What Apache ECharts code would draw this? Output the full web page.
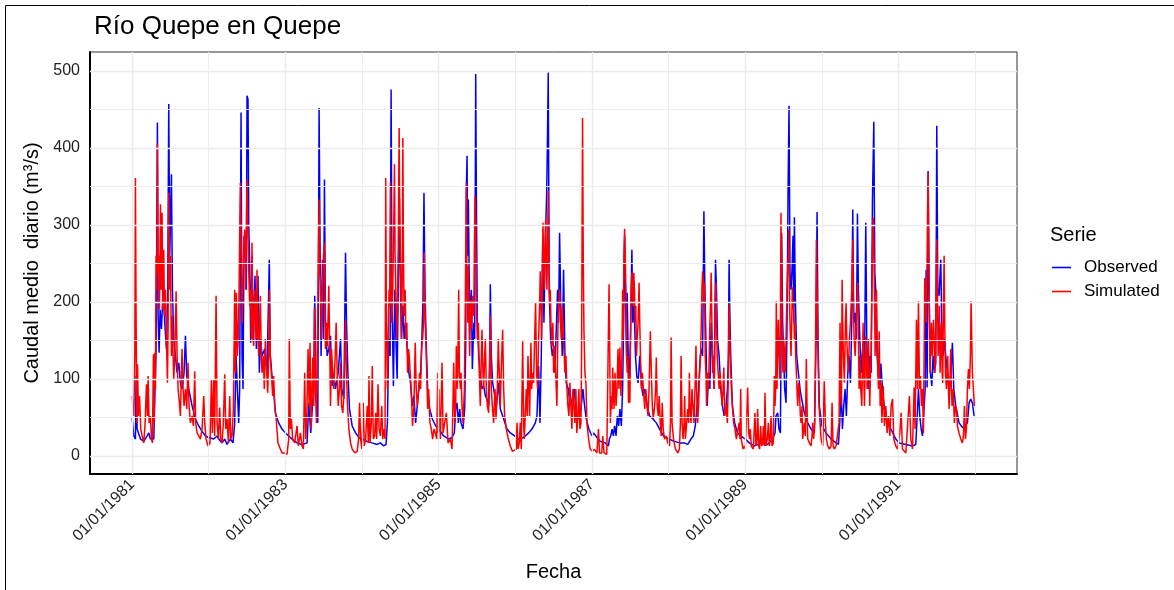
<!DOCTYPE html>
<html>
<head>
<meta charset="utf-8">
<title>Río Quepe en Quepe</title>
<script src="https://cdn.jsdelivr.net/npm/echarts@6/dist/echarts.min.js"></script>
<style>
  html, body { margin: 0; padding: 0; background: #ffffff; }
  #chart { width: 1174px; height: 590px; }
</style>
</head>
<body>
<div id="chart"></div>
<script>
// Daily mean discharge, Río Quepe en Quepe, 1981–1991.
// Each point is [decimal year, m³/s].
const observed = [
  [1981.000,50],[1981.022,26],[1981.043,22],[1981.052,104],[1981.065,35],[1981.109,22],[1981.152,19],[1981.196,26],[1981.217,30],[1981.239,22],[1981.261,24],[1981.283,22],[1981.296,74],[1981.313,139],[1981.330,433],[1981.339,182],[1981.352,134],[1981.365,190],[1981.383,165],[1981.404,216],[1981.426,173],[1981.448,139],[1981.465,216],[1981.478,457],[1981.491,260],[1981.513,366],[1981.526,216],[1981.543,152],[1981.565,130],[1981.587,108],[1981.609,121],[1981.630,95],[1981.652,87],[1981.678,108],[1981.696,156],[1981.713,104],[1981.739,87],[1981.783,65],[1981.826,48],[1981.870,39],[1981.913,32],[1981.957,26],
  [1982.000,24],[1982.065,22],[1982.109,26],[1982.130,22],[1982.174,17],[1982.209,22],[1982.239,15],[1982.283,22],[1982.317,17],[1982.339,43],[1982.357,130],[1982.374,87],[1982.391,43],[1982.404,87],[1982.422,446],[1982.435,130],[1982.448,87],[1982.461,286],[1982.478,277],[1982.491,216],[1982.500,468],[1982.513,463],[1982.522,303],[1982.535,251],[1982.548,147],[1982.565,260],[1982.583,152],[1982.604,234],[1982.622,139],[1982.643,234],[1982.661,108],[1982.678,152],[1982.696,130],[1982.730,139],[1982.761,108],[1982.791,255],[1982.804,130],[1982.826,104],[1982.848,87],[1982.870,56],[1982.913,43],[1982.957,35],
  [1983.000,30],[1983.087,22],[1983.153,17],[1983.218,15],[1983.284,17],[1983.306,69],[1983.332,30],[1983.354,65],[1983.371,87],[1983.384,208],[1983.402,87],[1983.424,43],[1983.441,452],[1983.454,268],[1983.467,130],[1983.485,255],[1983.498,152],[1983.511,359],[1983.524,173],[1983.546,130],[1983.568,139],[1983.590,156],[1983.611,91],[1983.633,108],[1983.655,87],[1983.690,108],[1983.721,152],[1983.738,87],[1983.764,74],[1983.786,264],[1983.799,173],[1983.817,108],[1983.838,61],[1983.873,39],[1983.917,30],[1983.961,24],
  [1984.000,22],[1984.066,19],[1984.131,17],[1984.197,15],[1984.240,17],[1984.284,13],[1984.314,15],[1984.332,43],[1984.349,152],[1984.367,130],[1984.380,476],[1984.393,195],[1984.410,91],[1984.428,216],[1984.445,143],[1984.459,100],[1984.472,216],[1984.489,335],[1984.502,216],[1984.515,152],[1984.533,195],[1984.550,152],[1984.568,173],[1984.590,139],[1984.611,108],[1984.633,95],[1984.655,65],[1984.677,78],[1984.699,43],[1984.721,65],[1984.742,87],[1984.764,108],[1984.777,139],[1984.795,203],[1984.808,342],[1984.821,216],[1984.838,143],[1984.856,87],[1984.882,61],[1984.917,48],[1984.961,39],
  [1985.000,35],[1985.065,26],[1985.130,22],[1985.174,24],[1985.204,30],[1985.222,61],[1985.239,69],[1985.257,43],[1985.274,61],[1985.291,43],[1985.317,35],[1985.339,61],[1985.352,139],[1985.361,346],[1985.370,390],[1985.378,260],[1985.387,333],[1985.400,216],[1985.413,173],[1985.426,216],[1985.439,113],[1985.457,173],[1985.470,152],[1985.483,496],[1985.491,346],[1985.504,173],[1985.522,130],[1985.543,104],[1985.565,87],[1985.587,91],[1985.609,78],[1985.630,74],[1985.652,65],[1985.665,130],[1985.674,223],[1985.687,130],[1985.704,95],[1985.726,82],[1985.752,65],[1985.783,95],[1985.804,61],[1985.848,48],[1985.891,35],[1985.935,30],[1985.991,26],
  [1986.043,22],[1986.109,24],[1986.174,30],[1986.217,35],[1986.261,43],[1986.283,52],[1986.304,117],[1986.322,43],[1986.339,130],[1986.357,275],[1986.374,173],[1986.391,277],[1986.409,338],[1986.417,390],[1986.430,498],[1986.443,216],[1986.461,152],[1986.483,130],[1986.500,139],[1986.517,108],[1986.535,165],[1986.552,216],[1986.565,173],[1986.578,290],[1986.596,182],[1986.613,130],[1986.630,242],[1986.648,130],[1986.665,95],[1986.691,87],[1986.717,65],[1986.743,74],[1986.770,87],[1986.796,52],[1986.830,48],[1986.857,61],[1986.883,87],[1986.900,69],[1986.926,48],[1986.961,35],
  [1987.000,26],[1987.022,30],[1987.065,24],[1987.108,19],[1987.172,17],[1987.216,13],[1987.228,22],[1987.246,26],[1987.263,35],[1987.280,26],[1987.297,39],[1987.315,26],[1987.332,52],[1987.349,39],[1987.366,61],[1987.384,39],[1987.401,87],[1987.414,173],[1987.427,286],[1987.444,173],[1987.453,130],[1987.461,212],[1987.474,130],[1987.487,95],[1987.504,152],[1987.522,268],[1987.534,173],[1987.552,195],[1987.569,130],[1987.586,104],[1987.603,95],[1987.625,130],[1987.647,91],[1987.668,78],[1987.694,87],[1987.720,65],[1987.754,52],[1987.797,48],[1987.841,43],[1987.884,35],[1987.935,26],
  [1988.004,22],[1988.078,19],[1988.142,17],[1988.207,17],[1988.250,15],[1988.293,22],[1988.323,26],[1988.349,39],[1988.371,65],[1988.392,87],[1988.414,130],[1988.431,139],[1988.444,130],[1988.461,318],[1988.474,216],[1988.487,152],[1988.504,65],[1988.522,108],[1988.539,87],[1988.556,173],[1988.573,130],[1988.595,87],[1988.612,255],[1988.625,216],[1988.638,152],[1988.659,130],[1988.681,87],[1988.703,65],[1988.724,52],[1988.746,61],[1988.767,87],[1988.780,130],[1988.789,255],[1988.797,195],[1988.810,130],[1988.832,65],[1988.862,43],[1988.897,30],[1988.940,26],
  [1989.000,22],[1989.052,17],[1989.118,13],[1989.205,17],[1989.292,15],[1989.357,22],[1989.388,30],[1989.401,52],[1989.423,56],[1989.440,35],[1989.458,30],[1989.466,130],[1989.475,290],[1989.488,173],[1989.501,130],[1989.514,87],[1989.532,69],[1989.545,173],[1989.558,340],[1989.571,455],[1989.584,238],[1989.597,216],[1989.610,242],[1989.623,286],[1989.632,173],[1989.641,310],[1989.654,203],[1989.671,130],[1989.693,108],[1989.715,87],[1989.736,74],[1989.771,56],[1989.815,43],[1989.858,35],[1989.902,30],[1989.924,152],[1989.937,317],[1989.950,152],[1989.967,65],
  [1990.000,39],[1990.054,30],[1990.120,22],[1990.185,17],[1990.216,15],[1990.233,43],[1990.251,87],[1990.268,35],[1990.285,65],[1990.303,87],[1990.320,52],[1990.338,108],[1990.355,130],[1990.373,95],[1990.390,173],[1990.403,320],[1990.416,173],[1990.434,186],[1990.451,152],[1990.464,315],[1990.477,216],[1990.495,152],[1990.512,108],[1990.534,143],[1990.556,108],[1990.573,303],[1990.586,152],[1990.603,87],[1990.625,130],[1990.643,108],[1990.660,331],[1990.678,434],[1990.691,238],[1990.708,206],[1990.721,130],[1990.739,108],[1990.756,87],[1990.770,120],[1990.791,87],[1990.813,65],[1990.857,43],[1990.900,35],[1990.965,22],
  [1991.009,17],[1991.096,15],[1991.183,13],[1991.226,15],[1991.248,13],[1991.261,87],[1991.278,52],[1991.296,35],[1991.313,26],[1991.339,26],[1991.348,87],[1991.361,242],[1991.374,89],[1991.387,370],[1991.400,216],[1991.417,108],[1991.435,91],[1991.452,130],[1991.470,108],[1991.487,121],[1991.500,429],[1991.513,216],[1991.530,208],[1991.552,255],[1991.565,173],[1991.583,130],[1991.600,152],[1991.617,130],[1991.639,108],[1991.661,87],[1991.683,104],[1991.704,147],[1991.722,87],[1991.748,65],[1991.791,43],[1991.835,37],[1991.870,39],[1991.900,43],[1991.922,69],[1991.943,74],[1991.965,69],[1991.987,52]
];

const simulated = [
  [1981.000,78],[1981.022,52],[1981.035,130],[1981.043,361],[1981.052,173],[1981.061,43],[1981.070,119],[1981.083,52],[1981.096,78],[1981.113,35],[1981.130,26],[1981.152,17],[1981.170,43],[1981.187,93],[1981.200,52],[1981.209,104],[1981.222,43],[1981.239,52],[1981.252,22],[1981.265,17],[1981.278,132],[1981.287,43],[1981.296,134],[1981.304,87],[1981.313,260],[1981.322,216],[1981.330,406],[1981.339,238],[1981.348,260],[1981.357,190],[1981.370,327],[1981.378,216],[1981.391,316],[1981.400,190],[1981.413,268],[1981.422,182],[1981.435,216],[1981.448,152],[1981.461,95],[1981.470,173],[1981.478,342],[1981.487,216],[1981.500,260],[1981.513,130],[1981.522,182],[1981.535,130],[1981.543,100],[1981.557,130],[1981.574,214],[1981.587,130],[1981.600,87],[1981.613,74],[1981.630,52],[1981.643,108],[1981.652,139],[1981.665,87],[1981.678,65],[1981.696,87],[1981.713,61],[1981.730,121],[1981.743,65],[1981.761,43],[1981.783,52],[1981.800,39],[1981.817,110],[1981.830,43],[1981.848,30],[1981.870,26],[1981.891,22],[1981.913,35],[1981.935,78],[1981.948,43],[1981.965,22],[1981.991,13],
  [1982.017,17],[1982.035,100],[1982.048,30],[1982.065,100],[1982.078,26],[1982.096,208],[1982.109,43],[1982.126,22],[1982.143,63],[1982.157,22],[1982.174,17],[1982.191,43],[1982.209,106],[1982.222,35],[1982.239,48],[1982.257,17],[1982.274,78],[1982.287,22],[1982.304,26],[1982.322,61],[1982.339,216],[1982.348,108],[1982.361,212],[1982.374,130],[1982.383,147],[1982.396,216],[1982.413,355],[1982.426,238],[1982.439,173],[1982.452,260],[1982.470,294],[1982.483,216],[1982.500,359],[1982.509,303],[1982.522,242],[1982.535,195],[1982.543,216],[1982.557,152],[1982.565,277],[1982.578,152],[1982.587,143],[1982.600,216],[1982.609,190],[1982.622,152],[1982.630,242],[1982.643,152],[1982.652,130],[1982.665,173],[1982.674,208],[1982.687,130],[1982.696,108],[1982.713,130],[1982.726,87],[1982.739,152],[1982.757,108],[1982.770,82],[1982.783,130],[1982.791,216],[1982.804,130],[1982.817,108],[1982.835,78],[1982.848,104],[1982.861,65],[1982.878,52],[1982.904,17],[1982.935,9],[1982.957,4],[1982.987,4],
  [1983.000,4],[1983.022,2],[1983.044,22],[1983.052,152],[1983.066,35],[1983.079,48],[1983.096,22],[1983.122,17],[1983.153,39],[1983.170,13],[1983.197,30],[1983.218,13],[1983.236,9],[1983.253,108],[1983.266,22],[1983.279,43],[1983.297,139],[1983.310,65],[1983.323,147],[1983.336,35],[1983.349,87],[1983.358,128],[1983.371,65],[1983.380,193],[1983.393,87],[1983.406,43],[1983.419,139],[1983.432,260],[1983.441,333],[1983.450,238],[1983.459,225],[1983.472,152],[1983.485,216],[1983.498,260],[1983.511,277],[1983.524,139],[1983.537,173],[1983.550,143],[1983.568,221],[1983.581,130],[1983.590,65],[1983.603,139],[1983.620,108],[1983.633,87],[1983.651,130],[1983.664,173],[1983.677,108],[1983.690,65],[1983.707,87],[1983.721,121],[1983.734,65],[1983.751,56],[1983.769,87],[1983.786,177],[1983.799,108],[1983.812,65],[1983.830,35],[1983.852,17],[1983.873,9],[1983.908,4],[1983.939,6],[1983.956,22],[1983.969,69],[1983.983,22],
  [1984.000,9],[1984.017,69],[1984.031,13],[1984.048,22],[1984.070,65],[1984.083,17],[1984.092,104],[1984.105,17],[1984.122,43],[1984.135,117],[1984.148,22],[1984.166,26],[1984.179,56],[1984.192,22],[1984.210,93],[1984.223,35],[1984.240,26],[1984.258,65],[1984.271,22],[1984.288,35],[1984.301,22],[1984.310,361],[1984.319,173],[1984.332,87],[1984.345,173],[1984.354,216],[1984.362,195],[1984.371,355],[1984.380,238],[1984.389,173],[1984.402,216],[1984.415,303],[1984.424,379],[1984.432,260],[1984.441,216],[1984.454,152],[1984.463,195],[1984.472,260],[1984.485,426],[1984.493,303],[1984.502,260],[1984.515,152],[1984.524,216],[1984.533,413],[1984.541,260],[1984.550,182],[1984.563,216],[1984.572,152],[1984.585,173],[1984.594,108],[1984.607,139],[1984.616,130],[1984.629,108],[1984.642,87],[1984.659,39],[1984.677,65],[1984.694,147],[1984.707,87],[1984.721,65],[1984.738,87],[1984.751,108],[1984.764,87],[1984.777,139],[1984.790,152],[1984.803,173],[1984.812,264],[1984.825,173],[1984.838,130],[1984.856,61],[1984.869,87],[1984.886,43],[1984.904,35],[1984.921,22],[1984.939,35],[1984.956,30],[1984.974,22],[1984.987,108],[1984.994,30],
  [1985.004,87],[1985.013,43],[1985.022,22],[1985.043,121],[1985.057,30],[1985.078,43],[1985.100,56],[1985.122,17],[1985.152,22],[1985.174,9],[1985.196,121],[1985.209,43],[1985.222,65],[1985.230,143],[1985.239,87],[1985.248,104],[1985.261,216],[1985.270,108],[1985.283,87],[1985.291,108],[1985.304,65],[1985.317,43],[1985.335,87],[1985.348,208],[1985.361,355],[1985.370,216],[1985.378,173],[1985.387,247],[1985.396,173],[1985.404,130],[1985.417,203],[1985.430,165],[1985.443,208],[1985.457,182],[1985.465,260],[1985.474,338],[1985.483,303],[1985.491,216],[1985.504,152],[1985.517,173],[1985.530,108],[1985.543,65],[1985.557,130],[1985.565,164],[1985.578,108],[1985.587,87],[1985.600,130],[1985.609,152],[1985.622,87],[1985.635,65],[1985.652,56],[1985.665,108],[1985.674,182],[1985.687,87],[1985.700,65],[1985.717,43],[1985.735,87],[1985.748,48],[1985.765,87],[1985.778,152],[1985.791,108],[1985.804,65],[1985.822,130],[1985.835,164],[1985.848,87],[1985.861,52],[1985.883,35],[1985.909,22],[1985.935,13],[1985.961,6],[1985.987,4],
  [1986.013,9],[1986.022,43],[1986.035,9],[1986.052,17],[1986.065,43],[1986.078,9],[1986.096,149],[1986.109,43],[1986.117,22],[1986.135,65],[1986.143,87],[1986.157,52],[1986.165,130],[1986.178,87],[1986.187,52],[1986.204,147],[1986.213,87],[1986.226,108],[1986.239,95],[1986.252,152],[1986.265,199],[1986.278,108],[1986.291,87],[1986.304,152],[1986.317,195],[1986.326,240],[1986.335,195],[1986.343,152],[1986.352,216],[1986.361,303],[1986.370,260],[1986.378,216],[1986.387,260],[1986.396,307],[1986.404,260],[1986.413,216],[1986.422,281],[1986.430,344],[1986.439,260],[1986.448,195],[1986.457,216],[1986.465,173],[1986.478,143],[1986.491,173],[1986.500,108],[1986.513,143],[1986.526,108],[1986.535,87],[1986.543,65],[1986.557,173],[1986.565,195],[1986.578,216],[1986.591,173],[1986.600,152],[1986.613,195],[1986.626,152],[1986.639,130],[1986.648,108],[1986.661,130],[1986.674,87],[1986.687,65],[1986.700,52],[1986.713,95],[1986.726,65],[1986.739,35],[1986.752,87],[1986.765,65],[1986.778,43],[1986.791,87],[1986.804,30],[1986.817,52],[1986.830,87],[1986.843,35],[1986.857,43],[1986.865,130],[1986.878,439],[1986.887,260],[1986.896,164],[1986.909,108],[1986.922,95],[1986.935,43],[1986.957,22],[1986.978,9],
  [1987.009,6],[1987.030,9],[1987.065,4],[1987.086,35],[1987.099,4],[1987.129,4],[1987.142,26],[1987.159,4],[1987.194,2],[1987.216,4],[1987.224,223],[1987.233,130],[1987.241,43],[1987.254,78],[1987.263,61],[1987.272,115],[1987.280,87],[1987.289,61],[1987.302,108],[1987.315,65],[1987.328,87],[1987.341,139],[1987.353,87],[1987.366,141],[1987.379,78],[1987.392,130],[1987.401,216],[1987.409,152],[1987.418,260],[1987.427,295],[1987.435,260],[1987.444,216],[1987.453,130],[1987.461,108],[1987.470,130],[1987.478,69],[1987.487,104],[1987.496,69],[1987.504,152],[1987.513,216],[1987.522,238],[1987.530,216],[1987.539,195],[1987.547,238],[1987.556,216],[1987.565,173],[1987.573,195],[1987.582,130],[1987.591,152],[1987.603,173],[1987.616,225],[1987.625,173],[1987.634,130],[1987.647,87],[1987.659,108],[1987.672,87],[1987.690,61],[1987.703,87],[1987.720,65],[1987.733,52],[1987.746,87],[1987.763,162],[1987.776,108],[1987.789,65],[1987.802,48],[1987.819,65],[1987.832,87],[1987.841,128],[1987.853,65],[1987.866,52],[1987.879,78],[1987.892,43],[1987.905,26],[1987.918,69],[1987.931,35],[1987.948,22],[1987.970,26],[1987.991,17],
  [1988.013,13],[1988.026,43],[1988.034,154],[1988.047,43],[1988.065,22],[1988.091,9],[1988.121,4],[1988.142,9],[1988.155,43],[1988.164,130],[1988.177,43],[1988.190,22],[1988.203,43],[1988.211,78],[1988.220,22],[1988.237,43],[1988.250,61],[1988.263,43],[1988.272,108],[1988.280,65],[1988.293,43],[1988.306,87],[1988.319,65],[1988.332,43],[1988.345,87],[1988.358,143],[1988.366,87],[1988.379,43],[1988.392,65],[1988.405,108],[1988.418,130],[1988.427,173],[1988.435,216],[1988.444,240],[1988.453,225],[1988.461,195],[1988.470,225],[1988.478,130],[1988.487,108],[1988.496,65],[1988.509,108],[1988.522,87],[1988.530,130],[1988.539,173],[1988.547,195],[1988.556,238],[1988.565,173],[1988.573,108],[1988.586,130],[1988.595,87],[1988.603,152],[1988.616,225],[1988.625,173],[1988.634,130],[1988.647,108],[1988.659,87],[1988.672,108],[1988.685,87],[1988.698,65],[1988.711,87],[1988.720,115],[1988.733,52],[1988.750,65],[1988.767,43],[1988.780,108],[1988.789,197],[1988.797,152],[1988.806,121],[1988.819,87],[1988.832,65],[1988.849,43],[1988.866,35],[1988.884,22],[1988.905,35],[1988.918,43],[1988.931,22],[1988.940,87],[1988.948,22],[1988.970,9],[1988.987,13],
  [1989.000,9],[1989.017,9],[1989.031,89],[1989.044,30],[1989.057,22],[1989.065,35],[1989.078,13],[1989.105,9],[1989.126,56],[1989.139,13],[1989.153,22],[1989.161,61],[1989.174,13],[1989.187,9],[1989.200,39],[1989.214,13],[1989.227,17],[1989.235,39],[1989.248,13],[1989.257,82],[1989.270,13],[1989.288,22],[1989.301,43],[1989.314,13],[1989.327,26],[1989.336,52],[1989.349,13],[1989.366,17],[1989.379,104],[1989.388,65],[1989.397,87],[1989.405,201],[1989.414,87],[1989.423,152],[1989.431,177],[1989.440,130],[1989.449,100],[1989.458,173],[1989.466,316],[1989.475,216],[1989.484,130],[1989.492,108],[1989.501,152],[1989.510,139],[1989.519,108],[1989.527,130],[1989.536,173],[1989.545,216],[1989.553,240],[1989.562,260],[1989.566,294],[1989.575,216],[1989.584,173],[1989.597,130],[1989.606,173],[1989.614,219],[1989.623,195],[1989.632,190],[1989.641,152],[1989.649,173],[1989.658,130],[1989.667,108],[1989.675,87],[1989.684,65],[1989.697,95],[1989.706,87],[1989.719,52],[1989.728,43],[1989.741,65],[1989.749,22],[1989.763,35],[1989.771,43],[1989.784,26],[1989.797,126],[1989.806,65],[1989.815,22],[1989.837,17],[1989.858,13],[1989.871,26],[1989.880,43],[1989.893,22],[1989.906,43],[1989.915,117],[1989.928,281],[1989.936,216],[1989.945,152],[1989.954,108],[1989.963,65],[1989.976,43],[1989.989,22],
  [1990.011,13],[1990.031,97],[1990.046,43],[1990.059,22],[1990.076,13],[1990.098,9],[1990.120,13],[1990.133,69],[1990.146,13],[1990.163,9],[1990.185,13],[1990.207,11],[1990.224,43],[1990.237,173],[1990.246,87],[1990.255,65],[1990.264,229],[1990.272,173],[1990.281,130],[1990.294,95],[1990.307,173],[1990.316,199],[1990.325,152],[1990.333,130],[1990.346,108],[1990.359,152],[1990.373,173],[1990.381,195],[1990.390,216],[1990.399,260],[1990.403,281],[1990.412,195],[1990.421,152],[1990.434,130],[1990.442,152],[1990.455,195],[1990.468,225],[1990.477,152],[1990.486,87],[1990.495,130],[1990.508,87],[1990.521,65],[1990.529,108],[1990.538,173],[1990.547,108],[1990.556,65],[1990.564,108],[1990.573,156],[1990.582,130],[1990.590,87],[1990.599,108],[1990.608,152],[1990.617,108],[1990.625,65],[1990.634,108],[1990.643,130],[1990.651,195],[1990.660,260],[1990.669,310],[1990.678,281],[1990.682,238],[1990.691,173],[1990.695,130],[1990.704,173],[1990.713,216],[1990.721,152],[1990.730,108],[1990.739,87],[1990.748,162],[1990.761,65],[1990.774,95],[1990.783,43],[1990.800,91],[1990.817,39],[1990.835,65],[1990.852,30],[1990.870,52],[1990.887,26],[1990.904,65],[1990.922,74],[1990.939,22],[1990.965,13],[1990.987,9],
  [1991.017,30],[1991.035,56],[1991.052,9],[1991.074,9],[1991.096,4],[1991.122,6],[1991.143,78],[1991.161,22],[1991.183,9],[1991.204,89],[1991.217,35],[1991.235,177],[1991.248,87],[1991.261,201],[1991.274,87],[1991.287,104],[1991.300,65],[1991.313,87],[1991.326,30],[1991.335,130],[1991.343,231],[1991.352,216],[1991.361,173],[1991.370,216],[1991.378,303],[1991.387,368],[1991.396,260],[1991.404,173],[1991.413,108],[1991.422,152],[1991.430,173],[1991.439,130],[1991.448,152],[1991.457,177],[1991.465,152],[1991.474,108],[1991.483,130],[1991.491,216],[1991.500,281],[1991.509,216],[1991.517,130],[1991.526,152],[1991.535,195],[1991.543,108],[1991.552,152],[1991.561,173],[1991.570,108],[1991.578,95],[1991.587,195],[1991.596,260],[1991.604,173],[1991.613,108],[1991.626,87],[1991.635,108],[1991.643,130],[1991.652,87],[1991.661,61],[1991.674,108],[1991.683,139],[1991.691,87],[1991.700,65],[1991.713,87],[1991.722,65],[1991.730,43],[1991.743,65],[1991.757,61],[1991.770,39],[1991.791,30],[1991.813,22],[1991.835,17],[1991.848,26],[1991.861,65],[1991.874,22],[1991.887,35],[1991.900,87],[1991.913,113],[1991.926,87],[1991.939,130],[1991.948,201],[1991.957,152],[1991.965,108],[1991.978,87],[1991.991,65]
];

// Axis breaks
const yTicks = [0, 100, 200, 300, 400, 500];
const yMinor = [50, 150, 250, 350, 450];
const xTickYears = [1981, 1983, 1985, 1987, 1989, 1991];
const xMinorYears = [1982, 1984, 1986, 1988, 1990, 1992];

// Dates are handled as UTC millisecond timestamps on a linear axis
function yearToTime(y) {
  const yr = Math.floor(y);
  const s = Date.UTC(yr, 0, 1), e = Date.UTC(yr + 1, 0, 1);
  return s + (y - yr) * (e - s);
}
const toSeries = arr => arr.map(p => [yearToTime(p[0]), p[1]]);
const jan1 = yr => Date.UTC(yr, 0, 1);
const pad = n => (n < 10 ? '0' : '') + n;
function fmtDate(t) {
  const d = new Date(t);
  return pad(d.getUTCDate()) + '/' + pad(d.getUTCMonth() + 1) + '/' + d.getUTCFullYear();
}

// Panel extent padded by 5% of the data range on each side
const start = Date.UTC(1981, 0, 1), end = Date.UTC(1991, 11, 31);
const padT = (end - start) * 0.05;
const xMin = start - padT, xMax = end + padT;
const yMin = -23.4, yMax = 524.7;

const FONT = '"Liberation Sans", Arial, Helvetica, sans-serif';
const gridMajor = { color: '#ebebeb', width: 1.4, type: 'solid' };
const gridMinor = { color: '#ebebeb', width: 0.9, type: 'solid' };

const gridLines = [].concat(
  yTicks.map(v => ({ yAxis: v, lineStyle: gridMajor })),
  yMinor.map(v => ({ yAxis: v, lineStyle: gridMinor })),
  xTickYears.map(y => ({ xAxis: jan1(y), lineStyle: gridMajor })),
  xMinorYears.map(y => ({ xAxis: jan1(y), lineStyle: gridMinor }))
);

const chart = echarts.init(document.getElementById('chart'), null, { renderer: 'canvas' });
chart.setOption({
  animation: false,
  backgroundColor: '#ffffff',
  textStyle: { fontFamily: FONT },
  title: {
    text: 'Río Quepe en Quepe',
    left: 89, top: 9,
    textStyle: { fontFamily: FONT, fontSize: 26, fontWeight: 'normal', color: '#000' }
  },
  grid: {
    left: 90, right: 157, top: 52, bottom: 116,
    show: true, borderColor: '#333', borderWidth: 1, backgroundColor: '#fff'
  },
  legend: {
    orient: 'vertical',
    left: 1052, top: 259,
    data: ['Observed', 'Simulated'],
    icon: 'rect',
    itemWidth: 19, itemHeight: 1.6,
    itemGap: 7,
    padding: 0,
    textStyle: { fontFamily: FONT, fontSize: 17, color: '#000', padding: [0, 0, 0, 8] }
  },
  graphic: [
    { type: 'text', left: 1050, top: 225,
      style: { text: 'Serie', font: '20px ' + FONT, fill: '#000' } },
    { type: 'line', shape: { x1: 5.5, y1: 5.5, x2: 5.5, y2: 590 }, style: { stroke: '#000', lineWidth: 1 } },
    { type: 'line', shape: { x1: 5.5, y1: 5.5, x2: 1174, y2: 5.5 }, style: { stroke: '#000', lineWidth: 1 } }
  ],
  xAxis: {
    type: 'value',
    min: xMin, max: xMax,
    name: 'Fecha',
    nameLocation: 'middle',
    nameGap: 88,
    nameTextStyle: { fontFamily: FONT, fontSize: 20, color: '#000' },
    axisLine: { show: true, onZero: false, lineStyle: { color: '#000', width: 2 } },
    axisTick: { show: false },
    splitLine: { show: false },
    axisLabel: {
      customValues: xTickYears.map(jan1),
      formatter: v => fmtDate(v),
      rotate: 45,
      margin: 8,
      fontFamily: FONT, fontSize: 16, color: '#222'
    }
  },
  yAxis: {
    type: 'value',
    min: yMin, max: yMax,
    name: 'Caudal medio  diario (m³/s)',
    nameLocation: 'middle',
    nameGap: 48,
    nameTextStyle: { fontFamily: FONT, fontSize: 20, color: '#000' },
    axisLine: { show: true, onZero: false, lineStyle: { color: '#000', width: 2 } },
    axisTick: { show: false },
    splitLine: { show: false },
    axisLabel: {
      customValues: yTicks,
      margin: 10,
      fontFamily: FONT, fontSize: 16, color: '#222'
    }
  },
  series: [
    {
      name: 'grid',
      type: 'line',
      data: [],
      silent: true,
      z: 0,
      markLine: {
        silent: true,
        symbol: ['none', 'none'],
        label: { show: false },
        emphasis: { disabled: true },
        animation: false,
        data: gridLines
      }
    },
    {
      name: 'Observed',
      type: 'line',
      data: toSeries(observed),
      showSymbol: false, symbol: 'none',
      sampling: 'none',
      z: 2,
      color: '#0000ff',
      itemStyle: { color: '#0000ff' },
      lineStyle: { color: '#0000ff', width: 1.5 }
    },
    {
      name: 'Simulated',
      type: 'line',
      data: toSeries(simulated),
      showSymbol: false, symbol: 'none',
      sampling: 'none',
      z: 3,
      color: '#ff0000',
      itemStyle: { color: '#ff0000' },
      lineStyle: { color: '#ff0000', width: 1.5 }
    }
  ]
});
</script>
</body>
</html>
